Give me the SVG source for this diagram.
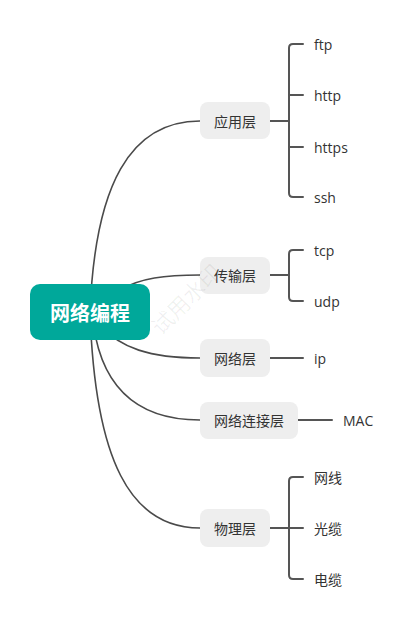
<svg xmlns="http://www.w3.org/2000/svg" width="417" height="624" viewBox="0 0 417 624">
<style>
.bg{fill:#ffffff}
.c{fill:none;stroke:#4a4a4a;stroke-width:1.6;stroke-linecap:round}
.b{fill:none;stroke:#555555;stroke-width:2;stroke-linecap:round;stroke-linejoin:round}
.n{fill:#eeeeee}
.t{font-family:"Noto Sans CJK SC","Noto Sans",sans-serif;font-size:14px;fill:#333333;text-anchor:middle;dominant-baseline:central}
.l{font-family:"Open Sans","Noto Sans CJK SC",sans-serif;font-size:14px;fill:#333333;dominant-baseline:central}
.r{font-family:"Noto Sans CJK SC",sans-serif;font-size:20px;font-weight:bold;fill:#ffffff;text-anchor:middle;dominant-baseline:central}
.w{font-family:"Noto Sans CJK SC",sans-serif;font-size:22px;fill:#000000;fill-opacity:0.06;text-anchor:middle;dominant-baseline:central}
</style>
<rect class="bg" x="0" y="0" width="417" height="624"/>
<g id="connectors">
<path class="c" d="M90 312 C95 185 130 121 200 121"/>
<path class="c" d="M120 290 C140 278 165 275 200 275"/>
<path class="c" d="M100 325 C120 348 150 358 200 358"/>
<path class="c" d="M92 312 C98 385 135 420 200 420"/>
<path class="c" d="M90 312 C95 460 130 528 200 528"/>
<path class="b" d="M270 121 H289" stroke-width="3"/>
<path class="b" d="M303 44 H293 Q289 44 289 48 V193 Q289 197 293 197 H303"/>
<path class="b" d="M289 95 H303 M289 147 H303"/>
<path class="b" d="M270 275 H289"/>
<path class="b" d="M303 250 H293 Q289 250 289 254 V297 Q289 301 293 301 H303"/>
<path class="b" d="M270 358 H303"/>
<path class="b" d="M298 420 H332"/>
<path class="b" d="M270 528 H289" stroke-width="3"/>
<path class="b" d="M303 477 H293 Q289 477 289 481 V575 Q289 579 293 579 H303"/>
<path class="b" d="M289 528 H303"/>
</g>
<g id="root">
<rect x="30" y="284" width="120" height="56" rx="10" fill="#00a89a"/>
<text class="r" x="90" y="312">网络编程</text>
</g>
<g id="n-app"><rect class="n" x="200" y="102" width="70" height="37" rx="8"/><text class="t" x="235" y="121">应用层</text></g>
<g id="n-trans"><rect class="n" x="200" y="257" width="70" height="37" rx="8"/><text class="t" x="235" y="275">传输层</text></g>
<g id="n-net"><rect class="n" x="200" y="339" width="70" height="38" rx="8"/><text class="t" x="235" y="358">网络层</text></g>
<g id="n-link"><rect class="n" x="200" y="402" width="98" height="37" rx="8"/><text class="t" x="249" y="420">网络连接层</text></g>
<g id="n-phy"><rect class="n" x="200" y="509" width="70" height="38" rx="8"/><text class="t" x="235" y="528">物理层</text></g>
<g id="leaf-ftp"><text class="l" x="314" y="44">ftp</text></g>
<g id="leaf-http"><text class="l" x="314" y="95">http</text></g>
<g id="leaf-https"><text class="l" x="314" y="147">https</text></g>
<g id="leaf-ssh"><text class="l" x="314" y="197">ssh</text></g>
<g id="leaf-tcp"><text class="l" x="314" y="250">tcp</text></g>
<g id="leaf-udp"><text class="l" x="314" y="301">udp</text></g>
<g id="leaf-ip"><text class="l" x="314" y="358">ip</text></g>
<g id="leaf-mac"><text class="l" x="343" y="420">MAC</text></g>
<g id="leaf-wx"><text class="l" x="314" y="477">网线</text></g>
<g id="leaf-gl"><text class="l" x="314" y="528">光缆</text></g>
<g id="leaf-dl"><text class="l" x="314" y="579">电缆</text></g>
<text class="w" x="185" y="298" transform="rotate(-45 185 298)">试用水印</text>
</svg>
